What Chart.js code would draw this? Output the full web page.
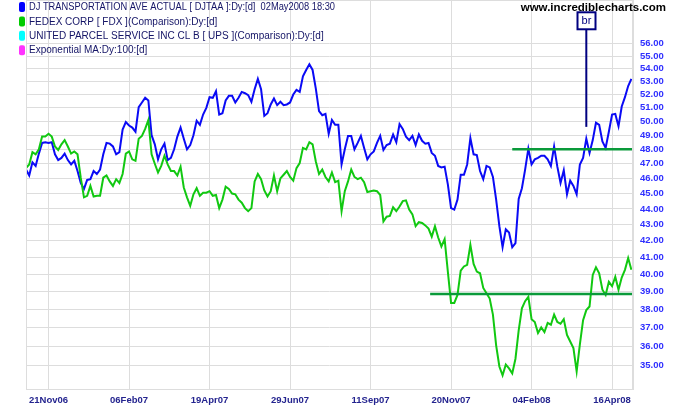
<!DOCTYPE html>
<html>
<head>
<meta charset="utf-8">
<script src="https://cdn.jsdelivr.net/npm/chart.js@4.4.1/dist/chart.umd.min.js"></script>
<style>
  body { margin: 0; background: #fff; }
  canvas { display: block; }
</style>
</head>
<body>
<canvas id="chart" width="675" height="410"></canvas>
<script>
// x axis is in trading days since the first bar (01Nov06), one value every 2 days
const dayStep = 2;
const tickDays = [14, 64, 114, 164, 214, 264, 314, 364];
const tickLabels = ["21Nov06", "06Feb07", "19Apr07", "29Jun07", "11Sep07", "20Nov07", "04Feb08", "16Apr08"];
const priceTicks = [35, 36, 37, 38, 39, 40, 41, 42, 43, 44, 45, 46, 47, 48, 49, 50, 51, 52, 53, 54, 55, 56];

const djtaa = [
  46.6, 46.2, 47.1, 46.85, 47.7, 48.45, 48.5, 48.45, 48.5, 47.65,
  47.25, 47.4, 47.7, 47.25, 46.95, 47.2, 46.5, 45.7, 45.3, 45.9,
  45.95, 46.5, 46.3, 46.6, 47.65, 48.45, 48.4, 48.2, 47.65, 47.8,
  49.4, 49.95, 49.7, 49.55, 49.25, 51.05, 51.4, 51.75, 51.55, 49.0,
  48.35, 47.3, 48.0, 48.4, 47.25, 47.4, 48.0, 48.9, 49.55, 48.75,
  48.0, 48.3, 49.0, 50.05, 49.75, 50.5, 51.0, 51.8, 51.75, 52.25,
  50.5, 50.6, 51.55, 51.9, 51.9, 51.4, 51.75, 52.2, 52.1, 51.95,
  51.45, 52.4, 53.2, 52.4, 50.4, 50.6, 51.25, 51.7, 51.2, 51.45,
  51.2, 51.25, 51.4, 52.0, 52.35, 52.2, 53.4, 53.9, 54.35, 53.9,
  52.45, 50.75, 50.45, 50.55, 49.1, 50.1, 49.75, 49.75, 46.95, 48.0,
  48.95, 48.95, 48.0, 48.45, 48.95, 48.1, 47.3, 47.65, 47.85, 48.45,
  48.95, 47.95, 48.3, 48.4, 49.05, 48.5, 49.8, 49.45, 48.9, 48.65,
  48.95, 48.3, 49.05, 48.6, 48.4, 48.45, 47.75, 47.55, 46.85, 46.75,
  46.8, 45.6, 44.05, 43.95, 44.6, 46.25, 46.25, 46.95, 48.8, 47.65,
  47.6, 46.5, 45.95, 46.85, 46.75, 46.1, 44.6, 42.9, 41.6, 42.7,
  42.5, 41.6, 41.85, 44.65, 45.35, 46.6, 48.05, 46.95, 47.3, 47.4,
  47.55, 47.55, 47.3, 46.85, 48.2, 46.8, 45.7, 46.55, 44.95, 45.85,
  45.5, 44.95, 46.95, 47.4, 48.75, 47.75, 48.65, 49.9, 49.75, 48.55,
  48.1, 49.25, 50.5, 50.55, 49.65, 51.1, 51.8, 52.65, 53.2
];

const fdx = [
  46.7, 46.95, 47.8, 47.65, 48.0, 48.9, 48.9, 49.1, 48.9, 48.2,
  47.95, 48.35, 48.65, 48.2, 47.7, 47.85, 47.65, 46.05, 44.75, 44.85,
  45.5, 44.8, 44.85, 44.85, 46.05, 46.2, 45.8, 45.5, 45.95, 45.7,
  46.3, 47.7, 47.85, 47.3, 47.2, 48.75, 48.95, 49.45, 50.1, 47.65,
  47.0, 46.4, 46.85, 47.55, 46.95, 46.5, 46.5, 46.2, 46.8, 45.4,
  44.75, 44.2, 44.95, 45.35, 44.85, 45.05, 45.05, 45.15, 44.85, 44.9,
  44.05, 44.6, 45.45, 45.3, 45.0, 44.95, 44.6, 44.4, 44.05, 43.85,
  44.05, 45.8, 46.3, 45.95, 45.2, 44.8, 45.15, 46.2, 45.15, 46.0,
  46.25, 46.5, 46.1, 45.85, 46.7, 47.05, 48.1, 48.0, 48.5, 48.35,
  47.15, 46.3, 46.6, 46.1, 45.8, 46.4, 45.75, 45.85, 43.85, 45.15,
  45.8, 46.6, 46.1, 45.95, 46.05, 45.75, 45.1, 45.15, 45.2, 45.15,
  44.9, 43.2, 43.5, 43.55, 44.1, 43.85, 44.15, 44.5, 44.55, 43.95,
  43.65, 42.9, 43.15, 43.1, 42.95, 42.75, 42.25, 42.9, 42.2, 41.65,
  42.1, 40.15, 38.35, 38.35, 38.8, 40.2, 40.45, 40.55, 41.75, 40.6,
  40.15, 40.05, 39.2, 38.9, 38.6, 37.7, 36.05, 34.95, 34.5, 35.05,
  34.85, 34.6, 35.35, 36.85, 38.05, 38.45, 38.7, 37.45, 37.3, 36.7,
  37.0, 36.75, 37.25, 37.15, 37.7, 37.3, 37.2, 37.45, 36.6, 36.25,
  35.9, 34.7, 36.1, 37.4, 37.95, 38.15, 39.95, 40.4, 40.05, 39.1,
  38.8, 39.55, 39.3, 39.85, 39.1, 39.8, 40.25, 40.95, 40.25
];

// horizontal support / resistance lines
const lineStartDays = [302, 251];
const lineLevels = [48.0, 38.85];
const lastDay = 377;

// breakout signal
const signalDay = 348;
const signalLow = 49.6;
const signalHigh = 57.2;
const signalText = "br";

const legendLabels = [
  "DJ TRANSPORTATION AVE ACTUAL [ DJTAA ]:Dy:[d]  02May2008 18:30",
  "FEDEX CORP [ FDX ](Comparison):Dy:[d]",
  "UNITED PARCEL SERVICE INC CL B [ UPS ](Comparison):Dy:[d]",
  "Exponential MA:Dy:100:[d]"
];
const legendColors = ["#0000ff", "#00cc00", "#00ffff", "#ff33ff"];

const FONT = '"Liberation Sans", Arial, sans-serif';
const gridColor = "#dddddd";

function toPoints(values) {
  return values.map((v, i) => ({ x: i * dayStep, y: v }));
}

const overlay = {
  id: "overlay",
  afterDraw(chart) {
    const ctx = chart.ctx;
    const a = chart.chartArea;
    const xs = chart.scales.x, ys = chart.scales.y;
    ctx.save();
    // plot border
    ctx.strokeStyle = gridColor;
    ctx.lineWidth = 1;
    ctx.strokeRect(a.left + 0.5, a.top + 0.5, a.right - a.left - 1, a.bottom - a.top);

    // legend
    ctx.font = "10px " + FONT;
    ctx.textBaseline = "middle";
    legendLabels.forEach((t, i) => {
      const y = 7 + i * 14.4;
      ctx.fillStyle = legendColors[i];
      ctx.beginPath();
      ctx.roundRect(19, y - 5, 6, 10, 2);
      ctx.fill();
      ctx.fillStyle = "#141466";
      ctx.fillText(t, 29, y + 0.5, 306);
    });

    // site name
    ctx.font = "bold 11.5px " + FONT;
    ctx.fillStyle = "#000";
    ctx.textAlign = "right";
    ctx.fillText("www.incrediblecharts.com", 666, 8);

    // signal box
    const sx = Math.round(xs.getPixelForValue(signalDay)) + 0.5;
    const sTop = ys.getPixelForValue(signalHigh);
    ctx.strokeStyle = "#000080";
    ctx.lineWidth = 2;
    ctx.fillStyle = "#fff";
    ctx.fillRect(sx - 9, sTop - 17, 18, 17);
    ctx.strokeRect(sx - 9, sTop - 17, 18, 17);
    ctx.fillStyle = "#000080";
    ctx.textAlign = "center";
    ctx.font = "11px " + FONT;
    ctx.fillText(signalText, sx, sTop - 8);
    ctx.restore();
  }
};

new Chart(document.getElementById("chart"), {
  type: "line",
  data: {
    datasets: [
      {
        data: [{ x: lineStartDays[0], y: lineLevels[0] }, { x: lastDay, y: lineLevels[0] }],
        borderColor: "#0a9a3a", borderWidth: 2.5, pointRadius: 0
      },
      {
        data: [{ x: lineStartDays[1], y: lineLevels[1] }, { x: lastDay, y: lineLevels[1] }],
        borderColor: "#0a9a3a", borderWidth: 2.5, pointRadius: 0
      },
      {
        data: [{ x: signalDay, y: signalLow }, { x: signalDay, y: signalHigh }],
        borderColor: "#000080", borderWidth: 2, pointRadius: 0
      },
      {
        label: "FDX",
        data: toPoints(fdx),
        borderColor: "#11c811", borderWidth: 2, pointRadius: 0
      },
      {
        label: "DJTAA",
        data: toPoints(djtaa),
        borderColor: "#0a0af5", borderWidth: 2, pointRadius: 0
      }
    ]
  },
  options: {
    responsive: false,
    animation: false,
    devicePixelRatio: 1,
    layout: { padding: { left: 26, top: 0, right: 0, bottom: 0 } },
    plugins: { legend: { display: false }, tooltip: { enabled: false } },
    scales: {
      x: {
        type: "linear",
        min: 0,
        max: lastDay,
        grid: { color: gridColor, drawTicks: false },
        border: { color: gridColor },
        afterBuildTicks(axis) {
          axis.ticks = tickDays.map(v => ({ value: v }));
        },
        afterFit(axis) {
          axis.height = 21;
          axis.paddingLeft = 0;
          axis.paddingRight = 0;
        },
        ticks: {
          autoSkip: false,
          maxRotation: 0,
          padding: 6,
          color: "#24248f",
          font: { family: FONT, size: 9.5, weight: "bold" },
          callback: v => tickLabels[tickDays.indexOf(v)]
        }
      },
      y: {
        type: "logarithmic",
        position: "right",
        min: 33.82,
        max: 59.7,
        grid: { color: gridColor, drawTicks: false },
        border: { color: gridColor },
        afterBuildTicks(axis) {
          axis.ticks = priceTicks.map(v => ({ value: v }));
        },
        afterFit(axis) {
          axis.width = 42;
          axis.paddingTop = 0;
          axis.paddingBottom = 0;
        },
        ticks: {
          padding: 7,
          color: "#2f2fff",
          font: { family: FONT, size: 9.5, weight: "bold" },
          callback: v => Number(v).toFixed(2)
        }
      }
    }
  },
  plugins: [overlay]
});
</script>
</body>
</html>
